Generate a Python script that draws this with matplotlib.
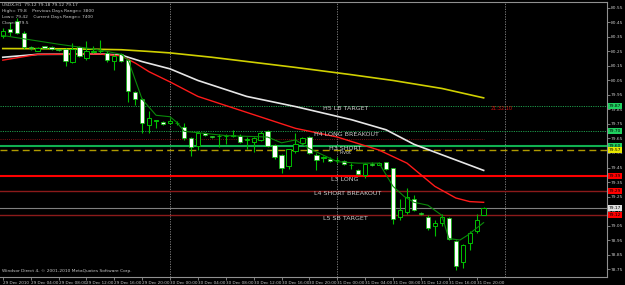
import numpy as np
import matplotlib
matplotlib.use("Agg")
import matplotlib.pyplot as plt
import matplotlib.transforms as mtransforms

# hourly USDX bars, 29 Dec 2010 00:00 -> 31 Dec 21:00
opens = [80.36, 80.405, 80.46, 80.38, 80.28, 80.255, 80.285, 80.28, 80.265, 80.27,
         80.18, 80.28, 80.205, 80.245, 80.25, 80.24, 80.185, 80.23, 80.19, 79.97,
         79.92, 79.74, 79.77, 79.765, 79.76, 79.76, 79.73, 79.65, 79.60, 79.69,
         79.665, 79.665, 79.665, 79.67, 79.665, 79.64, 79.625, 79.64, 79.70, 79.605,
         79.535, 79.46, 79.565, 79.62, 79.66, 79.535, 79.515, 79.51, 79.50, 79.495,
         79.47, 79.435, 79.40, 79.475, 79.47, 79.485, 79.445, 79.11, 79.14, 79.235,
         79.135, 79.11, 79.05, 79.065, 79.10, 78.94, 78.80, 78.93, 79.01, 79.12]
highs = [80.41, 80.45, 80.48, 80.39, 80.29, 80.28, 80.29, 80.29, 80.27, 80.275,
         80.31, 80.29, 80.32, 80.29, 80.33, 80.25, 80.23, 80.24, 80.20, 79.98,
         79.93, 79.84, 79.78, 79.77, 79.79, 79.77, 79.76, 79.66, 79.70, 79.695,
         79.67, 79.68, 79.68, 79.71, 79.68, 79.66, 79.66, 79.70, 79.71, 79.61,
         79.54, 79.58, 79.69, 79.66, 79.67, 79.55, 79.53, 79.52, 79.52, 79.50,
         79.48, 79.44, 79.48, 79.49, 79.49, 79.49, 79.45, 79.23, 79.31, 79.26,
         79.145, 79.12, 79.09, 79.13, 79.11, 78.95, 78.92, 79.01, 79.13, 79.18]
lows = [80.34, 80.36, 80.37, 80.27, 80.26, 80.25, 80.27, 80.26, 80.25, 80.15,
        80.17, 80.21, 80.19, 80.24, 80.24, 80.18, 80.12, 80.18, 79.90, 79.88,
        79.69, 79.69, 79.72, 79.74, 79.75, 79.74, 79.64, 79.53, 79.57, 79.67,
        79.655, 79.59, 79.61, 79.66, 79.62, 79.58, 79.56, 79.63, 79.59, 79.51,
        79.41, 79.44, 79.55, 79.61, 79.54, 79.43, 79.49, 79.49, 79.48, 79.47,
        79.44, 79.40, 79.38, 79.46, 79.465, 79.43, 79.06, 79.09, 79.13, 79.15,
        79.12, 79.02, 78.98, 79.05, 78.95, 78.74, 78.76, 78.88, 79.00, 79.12]
closes = [80.39, 80.385, 80.38, 80.28, 80.275, 80.275, 80.275, 80.27, 80.26, 80.185,
          80.27, 80.22, 80.25, 80.25, 80.255, 80.19, 80.22, 80.185, 79.98, 79.92,
          79.76, 79.79, 79.775, 79.75, 79.77, 79.755, 79.65, 79.59, 79.69, 79.675,
          79.66, 79.665, 79.67, 79.675, 79.625, 79.645, 79.65, 79.69, 79.60, 79.52,
          79.45, 79.575, 79.61, 79.65, 79.55, 79.50, 79.515, 79.495, 79.50, 79.475,
          79.465, 79.405, 79.475, 79.47, 79.48, 79.44, 79.095, 79.16, 79.245, 79.16,
          79.13, 79.03, 79.065, 79.11, 78.96, 78.77, 78.915, 79.00, 79.09, 79.17]

# moving averages (bar index, price)
ma_yellow_x = [0, 10, 17, 21, 24, 30, 42, 50, 56, 63, 69]
ma_yellow = [80.27, 80.268, 80.262, 80.25, 80.24, 80.21, 80.14, 80.09, 80.05, 79.995, 79.93]
ma_white_x = [0, 5, 14, 17, 20, 24, 28, 35, 42, 50, 55, 59, 64, 69]
ma_white = [80.21, 80.23, 80.232, 80.225, 80.18, 80.13, 80.05, 79.94, 79.87, 79.78,
            79.71, 79.61, 79.52, 79.43]
ma_red_x = [0, 5, 14, 17, 19, 21, 24, 28, 35, 42, 48, 54, 58, 62, 65, 67, 69]
ma_red = [80.19, 80.23, 80.232, 80.22, 80.17, 80.11, 80.04, 79.94, 79.83, 79.72,
          79.66, 79.57, 79.48, 79.32, 79.24, 79.215, 79.21]
ma_green_x = [0, 4, 8, 14, 17, 18, 20, 22, 24, 25, 26, 28, 32, 38, 40, 42, 44, 48,
              51, 54, 56, 57.6, 59, 61, 63, 64, 65.6, 66.6, 69]
ma_green = [80.36, 80.33, 80.30, 80.26, 80.23, 80.19, 79.92, 79.81, 79.80, 79.76,
            79.70, 79.69, 79.67, 79.66, 79.62, 79.64, 79.58, 79.49, 79.48, 79.48,
            79.32, 79.25, 79.21, 79.19, 79.12, 78.96, 78.95, 78.98, 79.07]

# pivot levels
level_names = ["H5 LB TARGET", "H4 LONG BREAKOUT", "H3 SHORT", "Pivot",
               "L3 LONG", "L4 SHORT BREAKOUT", "L5 SB TARGET"]
level_prices = [79.874, 79.70, 79.60, 79.57, 79.39, 79.29, 79.12]
level_labels = ["79.87", "79.70", "79.60", "79.57", "79.39", "79.29", "79.12"]
bid = 79.17

axis_prices = [80.55, 80.45, 80.35, 80.25, 80.15, 80.05, 79.95, 79.85, 79.75, 79.65,
               79.55, 79.45, 79.35, 79.25, 79.15, 79.05, 78.95, 78.85, 78.75]
time_labels = ["29 Dec 2010", "29 Dec 04:00", "29 Dec 08:00", "29 Dec 12:00",
               "29 Dec 16:00", "29 Dec 20:00", "30 Dec 00:00", "30 Dec 04:00",
               "30 Dec 08:00", "30 Dec 12:00", "30 Dec 16:00", "30 Dec 20:00",
               "31 Dec 00:00", "31 Dec 04:00", "31 Dec 08:00", "31 Dec 12:00",
               "31 Dec 16:00", "31 Dec 20:00"]
separators = [24, 48, 72]

bg = "#000000"
fg = "#c8c8c8"
lime = "#00c000"

fig = plt.figure(figsize=(6.25, 2.85), dpi=100, facecolor=bg)
ax = fig.add_axes([0.0, 0.028, 0.9712, 0.965], facecolor=bg)
ax.set_xlim(-0.4, 86.7)
ax.set_ylim(78.695, 80.591)

for s in ax.spines.values():
    s.set_color("#909090")
    s.set_linewidth(0.8)
ax.spines["left"].set_visible(False)

# period separators
for s in separators:
    ax.axvline(s, color="#8a8a8a", lw=0.6, ls=(0, (1.5, 1.5)), zorder=1)

# levels
trans = mtransforms.blended_transform_factory(ax.transAxes, ax.transData)
ax.axhline(level_prices[0], color="#1e9a4a", lw=0.7, ls=(0, (1.2, 1.2)), zorder=2)
ax.axhline(level_prices[1], color="#1e9a4a", lw=0.7, ls=(0, (1.2, 1.2)), zorder=2)
ax.axhline(level_prices[2], color="#10b050", lw=1.5, zorder=2)
ax.axhline(level_prices[3], color="#b09a00", lw=1.0, ls=(0, (5, 3)), zorder=2)
ax.axhline(level_prices[4], color="#ff0000", lw=1.5, zorder=2)
ax.axhline(level_prices[5], color="#8b1a1a", lw=1.0, zorder=2)
ax.axhline(bid, color="#808080", lw=0.8, zorder=2)
ax.axhline(level_prices[6], color="#8b1a1a", lw=1.0, zorder=2)
ax.plot([-0.4, 69], [79.645, 79.645], color="#7a1010", lw=0.7, ls=(0, (1, 1.2)), zorder=2)

label_xy = [(46, 79.855), (44.7, 79.68), (46.8, 79.584), (48.3, 79.55),
            (47.1, 79.37), (44.6, 79.27), (46, 79.10)]
for name, (lx, ly) in zip(level_names, label_xy):
    fs = 3.5 if name == "Pivot" else 4.6
    ax.text(lx, ly, name, color=fg, fontsize=fs, va="center", ha="left", zorder=6)

# moving averages
ax.plot(ma_yellow_x, ma_yellow, color="#d0d000", lw=1.2, zorder=3)
ax.plot(ma_white_x, ma_white, color="#e6e6e6", lw=1.2, zorder=3)
ax.plot(ma_red_x, ma_red, color="#ff1a1a", lw=1.0, zorder=3)

# candles
x = np.arange(len(opens))
o = np.array(opens)
c = np.array(closes)
ax.vlines(x, lows, highs, color=lime, lw=0.8, zorder=4)
down = c < o
h = np.maximum(np.abs(c - o), 0.004)
b = np.minimum(o, c)
ax.bar(x[down], h[down], bottom=b[down], width=0.62, color="#ffffff",
       edgecolor=lime, linewidth=0.5, zorder=5)
ax.bar(x[~down], h[~down], bottom=b[~down], width=0.62, color=bg,
       edgecolor=lime, linewidth=0.7, zorder=5)

ax.plot(ma_green_x, ma_green, color="#0a8a0a", lw=0.8, zorder=6)

# price axis
ax.set_yticks(axis_prices)
ax.set_yticklabels(["%.2f" % p for p in axis_prices])
ax.yaxis.tick_right()
ax.tick_params(axis="y", colors="#909090", labelcolor=fg, labelsize=3.2,
               length=2, width=0.6, pad=1)
ax.set_xticks(np.arange(len(time_labels)) * 4)
ax.set_xticklabels(time_labels)
ax.tick_params(axis="x", colors="#909090", labelcolor=fg, labelsize=3.0,
               length=2, width=0.6, pad=1)
for lab in ax.get_xticklabels():
    lab.set_horizontalalignment("left")

box_colors = ["#20d060", "#20d060", "#20d060", "#e8e800", "#ff0000", "#ff0000", "#ff0000"]
for p, t, bc in zip(level_prices, level_labels, box_colors):
    ax.text(1.003, p, t, transform=trans, fontsize=3.2, color="#000000", va="center",
            ha="left", clip_on=False, zorder=10,
            bbox=dict(boxstyle="square,pad=0.25", fc=bc, ec="none"))
ax.text(1.003, bid, "%.2f" % bid, transform=trans, fontsize=3.2, color="#000000",
        va="center", ha="left", clip_on=False, zorder=10,
        bbox=dict(boxstyle="square,pad=0.25", fc="#e0e0e0", ec="none"))

# texts
ax.text(70, 79.855, "21:32:10", color="#d01010", fontsize=3.5, va="center", zorder=6)
header = ["USDX,H1  79.12 79.18 79.12 79.17",
          "High= 79.8    Previous Days Range= 3800",
          "Low= 79.42    Current Days Range= 7400",
          "Close= 79.5"]
for k, line in enumerate(header):
    ax.text(0.003, 0.995 - k * 0.021, line, transform=ax.transAxes, color=fg,
            fontsize=3.2, va="top", ha="left", zorder=8)
ax.text(0.003, 0.015, "Windsor Direct 4, \u00a9 2001-2010 MetaQuotes Software Corp.",
        transform=ax.transAxes, color=fg, fontsize=3.2, va="bottom", zorder=8)

fig.savefig("out.png", dpi=100, facecolor=bg)
